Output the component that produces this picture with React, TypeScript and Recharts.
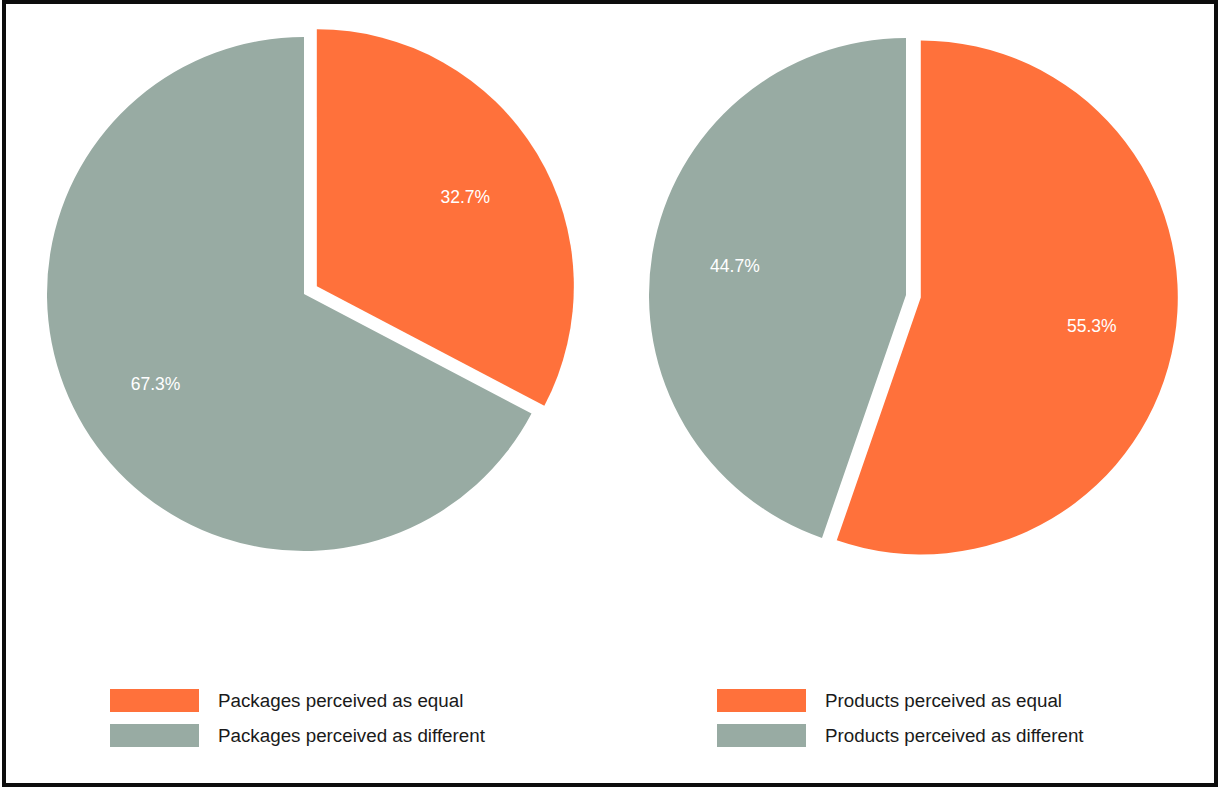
import React from 'react';
import { PieChart, Pie, Cell } from 'recharts';

// data
const categories = ['equal', 'different'];
const packagesValues = [32.7, 67.3];
const productsValues = [55.3, 44.7];
const packagesLegend = ['Packages perceived as equal', 'Packages perceived as different'];
const productsLegend = ['Products perceived as equal', 'Products perceived as different'];

const ORANGE = '#FF713B';
const GRAY = '#98ABA3';
const colors = [ORANGE, GRAY];

const RADIUS = 257;
const EXPLODE = 15;

const toRows = (values: number[]) => categories.map((c, i) => ({ name: c, value: values[i] }));

// offset for the exploded first slice, along its mid angle
function explodeOffset(values: number[]) {
  const total = values.reduce((a, b) => a + b, 0);
  const mid = (90 - 180 * (values[0] / total)) * Math.PI / 180;
  return { dx: EXPLODE * Math.cos(mid), dy: -EXPLODE * Math.sin(mid) };
}

const makeLabel = (showIndex: number) => (props: any) => {
  const { cx, cy, midAngle, outerRadius, index, value } = props;
  if (index !== showIndex) return null;
  const r = outerRadius * 0.675;
  const rad = (midAngle * Math.PI) / 180;
  const x = cx + r * Math.cos(rad);
  const y = cy - r * Math.sin(rad);
  return (
    <text x={x} y={y} fill="#fff" fontSize={17.5} fontFamily="Liberation Sans, Arial, sans-serif"
      textAnchor="middle" dominantBaseline="central">
      {`${value.toFixed(1)}%`}
    </text>
  );
};

function PiePair({ values, cx, cy }: { values: number[]; cx: number; cy: number }) {
  const rows = toRows(values);
  const { dx, dy } = explodeOffset(values);
  return (
    <>
      <Pie data={rows} dataKey="value" cx={cx} cy={cy} outerRadius={RADIUS} startAngle={90} endAngle={-270}
        stroke="none" isAnimationActive={false} label={makeLabel(1)} labelLine={false}>
        {rows.map((r, i) => <Cell key={r.name} fill={i === 1 ? GRAY : 'none'} />)}
      </Pie>
      <Pie data={rows} dataKey="value" cx={cx + dx} cy={cy + dy} outerRadius={RADIUS} startAngle={90} endAngle={-270}
        stroke="none" isAnimationActive={false} label={makeLabel(0)} labelLine={false}>
        {rows.map((r, i) => <Cell key={r.name} fill={i === 0 ? ORANGE : 'none'} />)}
      </Pie>
    </>
  );
}

function LegendBlock({ labels, left }: { labels: string[]; left: number }) {
  return (
    <div style={{ position: 'absolute', left, top: 689 }}>
      {labels.map((l, i) => (
        <div key={l} style={{ display: 'flex', alignItems: 'center', height: 23, marginBottom: 12 }}>
          <div style={{ width: 89, height: 23, background: colors[i] }} />
          <span style={{ marginLeft: 19, fontSize: 18.8, color: '#1a1a1a', fontFamily: 'Liberation Sans, Arial, sans-serif' }}>{l}</span>
        </div>
      ))}
    </div>
  );
}

export default function App() {
  return (
    <div style={{ position: 'absolute', left: 0, top: 0, width: 1218, height: 787, background: '#fff', overflow: 'hidden' }}>
      <div style={{ position: 'absolute', left: 0, top: 0 }}>
        <PieChart width={1218} height={787} margin={{ top: 0, right: 0, bottom: 0, left: 0 }}>
          {PiePair({ values: packagesValues, cx: 304, cy: 294 })}
          {PiePair({ values: productsValues, cx: 906, cy: 295 })}
        </PieChart>
      </div>
      <LegendBlock labels={packagesLegend} left={110} />
      <LegendBlock labels={productsLegend} left={717} />
      <div style={{ position: 'absolute', left: 2, top: 0, width: 1216, height: 787, boxSizing: 'border-box', border: '4px solid #0d0d0d', zIndex: 10, pointerEvents: 'none' }} />
    </div>
  );
}
